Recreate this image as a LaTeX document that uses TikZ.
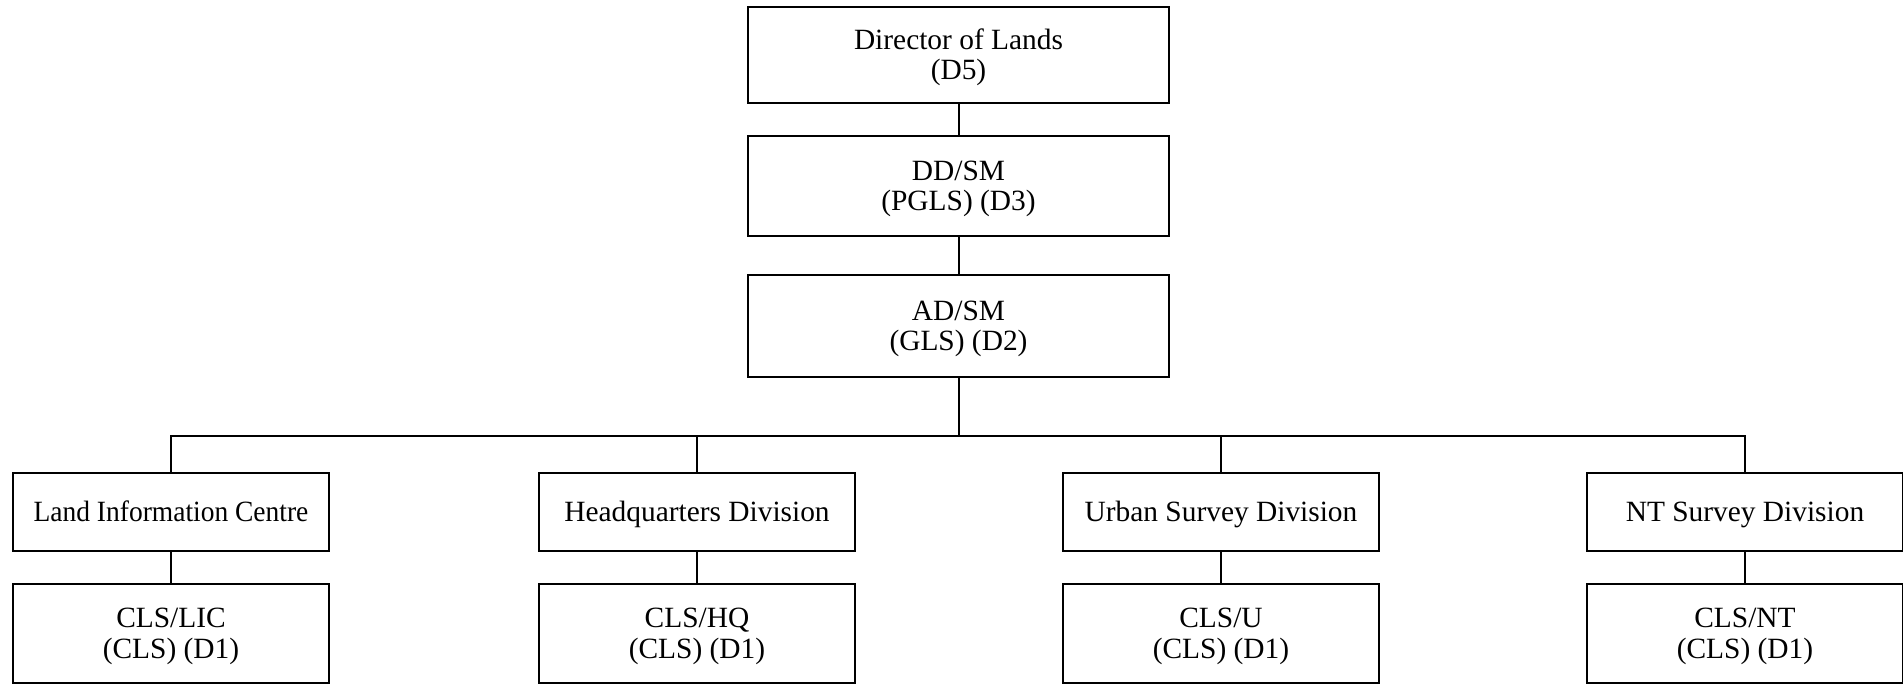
\documentclass[tikz,border=0pt]{standalone}
\usepackage{fontspec}
\usepackage{graphicx}
\setmainfont{Liberation Serif}
\begin{document}
\begin{tikzpicture}[x=1pt,y=-1pt,
  box/.style={draw, line width=2pt, rectangle, inner sep=0pt, align=center,
    text height=19.4pt, text depth=0pt,
    font=\fontsize{29.4}{30.5}\selectfont},
  twoline/.style={box, text height=49.9pt, text depth=0pt},
  topbox/.style={twoline, minimum width=421pt},
  divbox/.style={box, minimum width=316pt, minimum height=78pt},
  clsbox/.style={twoline, minimum width=316pt, minimum height=99pt},
  link/.style={draw, line width=2pt}]
\useasboundingbox (0,0) rectangle (1903,684);
\node[topbox, minimum height=96pt] (dir) at (958.5,55) {Director of Lands\\(D5)};
\node[topbox, minimum height=100pt] (dd) at (958.5,186) {DD/SM\\(PGLS) (D3)};
\node[topbox, minimum height=102pt] (ad) at (958.5,326) {AD/SM\\(GLS) (D2)};
\coordinate (bus) at (958.5,436);
\node[divbox] (lic) at (171,511.5) {\scalebox{0.935}[1]{Land Information Centre}};
\node[divbox] (hq) at (697,511.5) {Headquarters Division};
\node[divbox] (urb) at (1221,511.5) {Urban Survey Division};
\node[divbox] (nt) at (1745,511.5) {NT Survey Division};
\node[clsbox] (clic) at (171,633.5) {CLS/LIC\\(CLS) (D1)};
\node[clsbox] (chq) at (697,633.5) {CLS/HQ\\(CLS) (D1)};
\node[clsbox] (curb) at (1221,633.5) {CLS/U\\(CLS) (D1)};
\node[clsbox] (cnt) at (1745,633.5) {CLS/NT\\(CLS) (D1)};
\draw[link] (dir) -- (dd);
\draw[link] (dd) -- (ad);
\draw[link] (ad) -- (bus);
\draw[link] (bus) -| (lic);
\draw[link] (bus) -| (hq);
\draw[link] (bus) -| (urb);
\draw[link] (bus) -| (nt);
\draw[link] (lic) -- (clic);
\draw[link] (hq) -- (chq);
\draw[link] (urb) -- (curb);
\draw[link] (nt) -- (cnt);
\end{tikzpicture}
\end{document}
